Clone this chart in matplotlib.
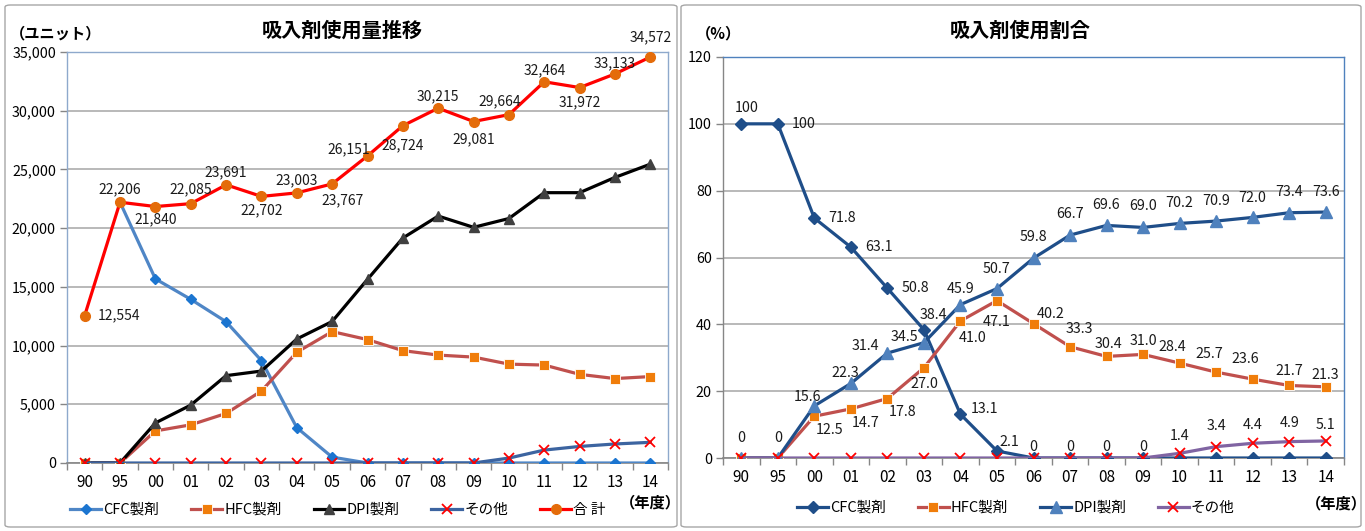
import numpy as np
import matplotlib
matplotlib.use("Agg")
import matplotlib.pyplot as plt
from matplotlib.patches import FancyBboxPatch

# ---------------- data ----------------
years = ["90", "95", "00", "01", "02", "03", "04", "05", "06", "07",
         "08", "09", "10", "11", "12", "13", "14"]

# left: usage (units)
cfc_units = [np.nan, 22206, 15680, 13940, 12030, 8720, 3010, 500, 0, 0,
             0, 0, 0, 0, 0, 0, 0]
hfc_units = [0, 0, 2730, 3250, 4220, 6130, 9430, 11190, 10510, 9570,
             9190, 9020, 8420, 8340, 7550, 7190, 7360]
dpi_units = [0, 0, 3410, 4930, 7440, 7830, 10560, 12050, 15640, 19160,
             21030, 20070, 20820, 23020, 23020, 24320, 25450]
oth_units = [0, 0, 0, 0, 0, 0, 0, 0, 0, 0,
             0, 0, 420, 1100, 1410, 1620, 1760]
tot_units = [12554, 22206, 21840, 22085, 23691, 22702, 23003, 23767, 26151, 28724,
             30215, 29081, 29664, 32464, 31972, 33133, 34572]

# right: share (%)
cfc_pct = [100, 100, 71.8, 63.1, 50.8, 38.4, 13.1, 2.1, 0, 0, 0, 0, 0, 0, 0, 0, 0]
hfc_pct = [0, 0, 12.5, 14.7, 17.8, 27.0, 41.0, 47.1, 40.2, 33.3, 30.4, 31.0, 28.4, 25.7, 23.6, 21.7, 21.3]
dpi_pct = [0, 0, 15.6, 22.3, 31.4, 34.5, 45.9, 50.7, 59.8, 66.7, 69.6, 69.0, 70.2, 70.9, 72.0, 73.4, 73.6]
oth_pct = [0, 0, 0, 0, 0, 0, 0, 0, 0, 0, 0, 0, 1.4, 3.4, 4.4, 4.9, 5.1]

series_names = ["CFC製剤", "HFC製剤", "DPI製剤", "その他", "合 計"]

# ---------------- fonts ----------------
JP = "Noto Sans CJK JP"
FAM = [JP, "DejaVu Sans"]
plt.rcParams["font.family"] = FAM

W, H = 1365, 531
fig = plt.figure(figsize=(W / 100, H / 100), dpi=100)

def fx(px):
    return px / W

def fy(py):
    return 1 - py / H

# panel borders
for x0, x1 in [(5, 677), (681, 1361)]:
    fig.patches.append(FancyBboxPatch((fx(x0), fy(527)), fx(x1 - x0), (527 - 5) / H,
                                      boxstyle="round,pad=0,rounding_size=0.004",
                                      transform=fig.transFigure, fill=False,
                                      edgecolor="#A6A6A6", linewidth=1.0))

x = np.arange(len(years))


def style_axes(ax, ymax, ystep, fmt, frame_col, left_col):
    ax.set_xlim(-0.5, len(years) - 0.5)
    ax.set_ylim(0, ymax)
    ax.set_yticks(np.arange(0, ymax + 1, ystep))
    ax.set_yticklabels([fmt(v) for v in np.arange(0, ymax + 1, ystep)])
    ax.set_xticks(x)
    ax.set_xticklabels(years)
    ax.set_xticks(np.arange(-0.5, len(years)), minor=True)
    ax.tick_params(axis="x", which="major", length=0, pad=8, labelsize=11)
    ax.tick_params(axis="x", which="minor", length=5, color="#868686", width=1)
    ax.tick_params(axis="y", length=5, color="#868686", width=1, pad=3, labelsize=10.3)
    ax.grid(axis="y", color="#A6A6A6", linewidth=1.1)
    ax.set_axisbelow(True)
    ax.spines["bottom"].set_color("#868686")
    ax.spines["bottom"].set_linewidth(1.2)
    ax.spines["left"].set_color(left_col)
    ax.spines["top"].set_color(frame_col)
    ax.spines["right"].set_color(frame_col)
    for s in ["left", "top", "right"]:
        ax.spines[s].set_linewidth(1.0)


LEG = dict(frameon=False, handlelength=2.1, handletextpad=0.15, columnspacing=2.2,
           prop={"family": FAM, "size": 10.5})

# ---------------- left chart ----------------
axL = fig.add_axes([fx(67), fy(463), fx(668 - 67), (463 - 52) / H])
style_axes(axL, 35000, 5000, lambda v: f"{int(v):,}", "#8EA9CC", "#8EA9CC")

lw = 2.3
axL.plot(x, cfc_units, color="#4F86C6", lw=lw, marker="D", ms=5.5,
         mfc="#1B75D0", mec="#1B75D0", label=series_names[0], zorder=3)
axL.plot(x, hfc_units, color="#C0504D", lw=lw, marker="s", ms=6.5,
         mfc="#F07D0A", mec="white", mew=0.6, label=series_names[1], zorder=3)
axL.plot(x, dpi_units, color="black", lw=lw, marker="^", ms=7,
         mfc="#404040", mec="#404040", label=series_names[2], zorder=3)
axL.plot(x, oth_units, color="#3C64A0", lw=lw, marker="x", ms=7, mew=1.3,
         mec="#FF0000", label=series_names[3], zorder=4)
axL.plot(x, tot_units, color="#FF0000", lw=lw, marker="o", ms=7,
         mfc="#E46C0A", mec="#E46C0A", label=series_names[4], zorder=5)

tot_off = [(34, 0), (0, 13), (0, -13), (0, 14), (0, 13), (0, -14), (0, 13), (10, -16),
           (-19, 7), (0, -20), (0, 12), (0, -18), (-9, 13), (0, 11), (0, -15), (0, 11), (0, 20)]
for i, (v, off) in enumerate(zip(tot_units, tot_off)):
    axL.annotate(f"{v:,}", (x[i], v), xytext=off, textcoords="offset pixels",
                 ha="center", va="center", fontsize=10, annotation_clip=False,
                 color="#1A1A1A", zorder=6)

fig.text(fx(342), fy(30), "吸入剤使用量推移", ha="center", va="center",
         fontsize=14.5, fontweight="bold", family=[JP])
fig.text(fx(56), fy(33), "（ユニット）", ha="center", va="center",
         fontsize=11, fontweight="bold", family=[JP])
fig.text(fx(650), fy(502), "（年度）", ha="center", va="center",
         fontsize=11, fontweight="bold", family=[JP])

legL = fig.legend(*axL.get_legend_handles_labels(), loc="center",
                  bbox_to_anchor=(fx(338), fy(510)), ncol=5, **LEG)

# ---------------- right chart ----------------
axR = fig.add_axes([fx(723), fy(458), fx(1344 - 723), (458 - 57) / H])
style_axes(axR, 120, 20, lambda v: f"{int(v)}", "#4F81BD", "#868686")

navy = "#1F4E89"
axR.plot(x, cfc_pct, color=navy, lw=lw, marker="D", ms=6,
         mfc=navy, mec=navy, label=series_names[0], zorder=3)
axR.plot(x, hfc_pct, color="#C0504D", lw=lw, marker="s", ms=6.5,
         mfc="#F07D0A", mec="white", mew=0.6, label=series_names[1], zorder=3)
axR.plot(x, dpi_pct, color=navy, lw=lw, marker="^", ms=8,
         mfc="#4F81BD", mec="#4F81BD", label=series_names[2], zorder=3)
axR.plot(x, oth_pct, color="#8064A2", lw=lw, marker="x", ms=7, mew=1.3,
         mec="#FF0000", label=series_names[3], zorder=4)

cfc_lab = {0: (5, 16), 1: (26, 0), 2: (28, 0), 3: (28, 0), 4: (28, 0), 5: (10, 15),
           6: (24, 5), 7: (12, 9), 8: (0, 11), 9: (0, 11), 10: (0, 11), 11: (0, 11)}
hfc_lab = {2: (15, -14), 3: (15, -14), 4: (15, -13), 5: (0, -16), 6: (12, -17), 7: (0, -21),
           8: (17, 10), 9: (9, 18), 10: (2, 12), 11: (0, 13), 12: (-7, 16), 13: (-7, 18),
           14: (-7, 20), 15: (0, 14), 16: (0, 12)}
dpi_lab = {2: (-7, 9), 3: (-6, 10), 4: (-22, 7), 5: (-19, 6), 6: (0, 16), 7: (0, 20),
           8: (0, 21), 9: (0, 21), 10: (0, 20), 11: (0, 21), 12: (0, 20), 13: (0, 20),
           14: (0, 19), 15: (0, 21), 16: (0, 20)}
oth_lab = {0: (0, 20), 1: (0, 20), 12: (0, 17), 13: (0, 21), 14: (0, 18), 15: (0, 19), 16: (0, 16)}

for vals, labs in [(cfc_pct, cfc_lab), (hfc_pct, hfc_lab), (dpi_pct, dpi_lab), (oth_pct, oth_lab)]:
    for i, off in labs.items():
        v = vals[i]
        txt = "0" if v == 0 else ("100" if v == 100 else f"{v:.1f}")
        axR.annotate(txt, (x[i], v), xytext=off, textcoords="offset pixels",
                     ha="center", va="center", fontsize=10.3, annotation_clip=False,
                     color="#1A1A1A", zorder=6)

fig.text(fx(1020), fy(30), "吸入剤使用割合", ha="center", va="center",
         fontsize=14.5, fontweight="bold", family=[JP])
fig.text(fx(719), fy(33), "（%）", ha="center", va="center",
         fontsize=11, fontweight="bold", family=[JP])
fig.text(fx(1336), fy(503), "（年度）", ha="center", va="center",
         fontsize=11, fontweight="bold", family=[JP])

legR = fig.legend(*axR.get_legend_handles_labels(), loc="center",
                  bbox_to_anchor=(fx(1016), fy(508)), ncol=4, **LEG)

fig.savefig("out.png", dpi=100)
